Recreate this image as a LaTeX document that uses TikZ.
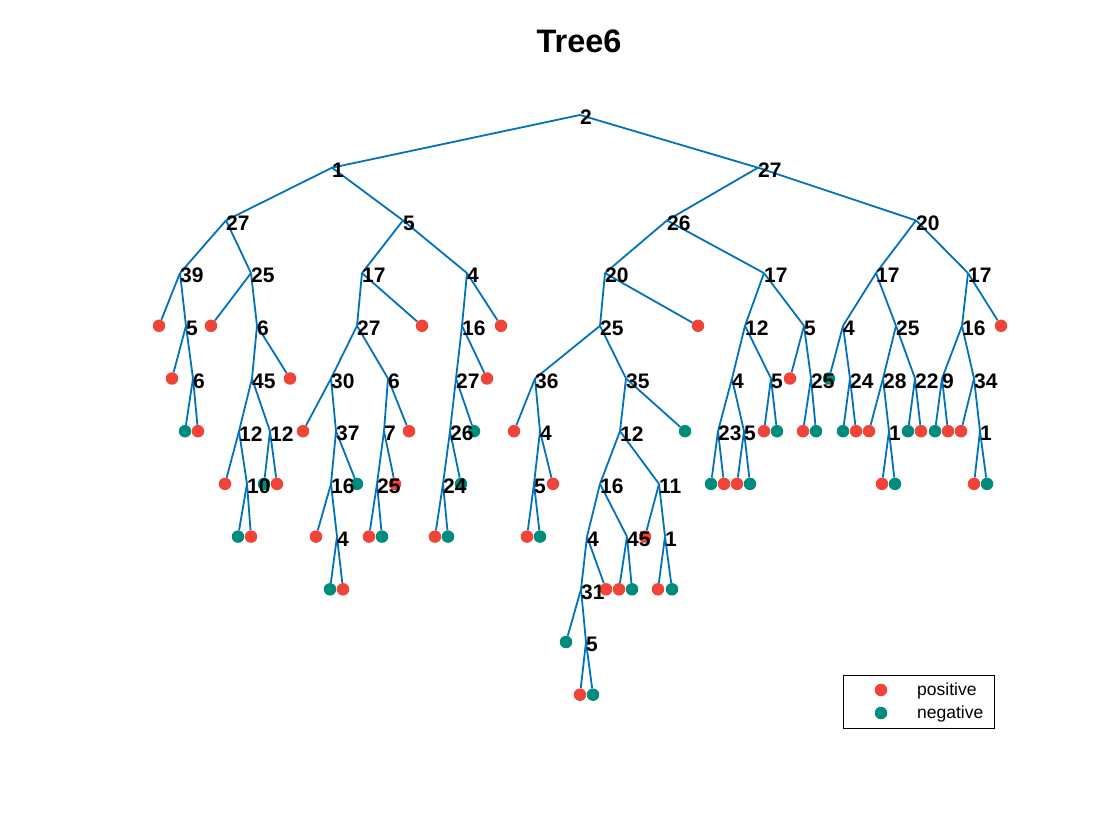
\documentclass[tikz,border=0pt]{standalone}
\usepackage{fontspec}
\setmainfont{Liberation Sans}
\definecolor{edgeblue}{RGB}{0,114,189}
\definecolor{posred}{RGB}{240,68,56}
\definecolor{negteal}{RGB}{0,140,124}
\pgfdeclarelayer{bg}\pgfdeclarelayer{fg}\pgfsetlayers{bg,main,fg}
\newcommand\TIn[4]{\coordinate (#1) at (#2,#3);\begin{pgfonlayer}{fg}\node[lbl] (#1-l) at (#1) {#4};\end{pgfonlayer}}
\newcommand\TLf[4]{\node[#4dot] (#1) at (#2,#3) {};}
\newcommand\TEd[2]{\begin{pgfonlayer}{bg}\draw[edge] (#1) -- (#2);\end{pgfonlayer}}
\begin{document}
\begin{tikzpicture}[x=1pt,y=-52.7pt,
  edge/.style={draw=edgeblue,line width=1.8pt},
  lbl/.style={anchor=west,inner sep=0pt,yshift=-2.5pt,font=\bfseries\fontsize{21}{21}\selectfont},
  Rdot/.style={circle,fill=posred,draw=none,minimum size=12.5pt,inner sep=0pt},
  Tdot/.style={circle,fill=negteal,draw=none,minimum size=12.5pt,inner sep=0pt}]
\begin{pgfonlayer}{bg}
\fill[white] (0pt,115pt) rectangle (1120pt,-725pt);
\end{pgfonlayer}
\useasboundingbox (0pt,115pt) rectangle (1120pt,-725pt);
\node[font=\bfseries\fontsize{32.5}{32.5}\selectfont] (title) at (579pt,74pt) {Tree6};
% ---- nodes ----
\TIn{r}{580}{0}{2}
\TIn{ra}{332}{1}{1}
\TIn{raa}{226}{2}{27}
\TIn{raaa}{180}{3}{39}
\TLf{raaaa}{159}{4}{R}
\TIn{raaab}{186}{4}{5}
\TLf{raaaba}{172}{5}{R}
\TIn{raaabb}{193}{5}{6}
\TLf{raaabba}{185}{6}{T}
\TLf{raaabbb}{198}{6}{R}
\TIn{raab}{251}{3}{25}
\TLf{raaba}{211}{4}{R}
\TIn{raabb}{257}{4}{6}
\TIn{raabba}{252}{5}{45}
\TIn{raabbaa}{239}{6}{12}
\TLf{raabbaaa}{225}{7}{R}
\TIn{raabbaab}{247}{7}{10}
\TLf{raabbaaba}{238}{8}{T}
\TLf{raabbaabb}{251}{8}{R}
\TIn{raabbab}{270}{6}{12}
\TLf{raabbaba}{264}{7}{T}
\TLf{raabbabb}{277}{7}{R}
\TLf{raabbb}{290}{5}{R}
\TIn{rab}{403}{2}{5}
\TIn{raba}{362}{3}{17}
\TIn{rabaa}{357}{4}{27}
\TIn{rabaaa}{331}{5}{30}
\TLf{rabaaaa}{303}{6}{R}
\TIn{rabaaab}{336}{6}{37}
\TIn{rabaaaba}{331}{7}{16}
\TLf{rabaaabaa}{316}{8}{R}
\TIn{rabaaabab}{337}{8}{4}
\TLf{rabaaababa}{330}{9}{T}
\TLf{rabaaababb}{343}{9}{R}
\TLf{rabaaabb}{357}{7}{T}
\TIn{rabaab}{388}{5}{6}
\TIn{rabaaba}{384}{6}{7}
\TIn{rabaabaa}{377}{7}{25}
\TLf{rabaabaaa}{369}{8}{R}
\TLf{rabaabaab}{382}{8}{T}
\TLf{rabaabab}{395}{7}{R}
\TLf{rabaabb}{409}{6}{R}
\TLf{rabab}{422}{4}{R}
\TIn{rabb}{467}{3}{4}
\TIn{rabba}{462}{4}{16}
\TIn{rabbaa}{456}{5}{27}
\TIn{rabbaaa}{450}{6}{26}
\TIn{rabbaaaa}{443}{7}{24}
\TLf{rabbaaaaa}{435}{8}{R}
\TLf{rabbaaaab}{448}{8}{T}
\TLf{rabbaaab}{461}{7}{T}
\TLf{rabbaab}{474}{6}{T}
\TLf{rabbab}{487}{5}{R}
\TLf{rabbb}{501}{4}{R}
\TIn{rb}{758}{1}{27}
\TIn{rba}{667}{2}{26}
\TIn{rbaa}{605}{3}{20}
\TIn{rbaaa}{600}{4}{25}
\TIn{rbaaaa}{535}{5}{36}
\TLf{rbaaaaa}{514}{6}{R}
\TIn{rbaaaab}{540}{6}{4}
\TIn{rbaaaaba}{534}{7}{5}
\TLf{rbaaaabaa}{527}{8}{R}
\TLf{rbaaaabab}{540}{8}{T}
\TLf{rbaaaabb}{553}{7}{R}
\TIn{rbaaab}{626}{5}{35}
\TIn{rbaaaba}{620}{6}{12}
\TIn{rbaaabaa}{600}{7}{16}
\TIn{rbaaabaaa}{587}{8}{4}
\TIn{rbaaabaaaa}{581}{9}{31}
\TLf{rbaaabaaaaa}{566}{10}{T}
\TIn{rbaaabaaaab}{586}{10}{5}
\TLf{rbaaabaaaaba}{580}{11}{R}
\TLf{rbaaabaaaabb}{593}{11}{T}
\TLf{rbaaabaaab}{606}{9}{R}
\TIn{rbaaabaab}{627}{8}{45}
\TLf{rbaaabaaba}{619}{9}{R}
\TLf{rbaaabaabb}{632}{9}{T}
\TIn{rbaaabab}{659}{7}{11}
\TLf{rbaaababa}{645}{8}{R}
\TIn{rbaaababb}{665}{8}{1}
\TLf{rbaaababba}{658}{9}{R}
\TLf{rbaaababbb}{672}{9}{T}
\TLf{rbaaabb}{685}{6}{T}
\TLf{rbaab}{698}{4}{R}
\TIn{rbab}{764}{3}{17}
\TIn{rbaba}{745}{4}{12}
\TIn{rbabaa}{732}{5}{4}
\TIn{rbabaaa}{718}{6}{23}
\TLf{rbabaaaa}{711}{7}{T}
\TLf{rbabaaab}{724}{7}{R}
\TIn{rbabaab}{744}{6}{5}
\TLf{rbabaaba}{737}{7}{R}
\TLf{rbabaabb}{750}{7}{T}
\TIn{rbabab}{771}{5}{5}
\TLf{rbababa}{764}{6}{R}
\TLf{rbababb}{777}{6}{T}
\TIn{rbabb}{804}{4}{5}
\TLf{rbabba}{790}{5}{R}
\TIn{rbabbb}{811}{5}{25}
\TLf{rbabbba}{803}{6}{R}
\TLf{rbabbbb}{816}{6}{T}
\TIn{rbb}{916}{2}{20}
\TIn{rbba}{876}{3}{17}
\TIn{rbbaa}{843}{4}{4}
\TLf{rbbaaa}{829}{5}{T}
\TIn{rbbaab}{850}{5}{24}
\TLf{rbbaaba}{843}{6}{T}
\TLf{rbbaabb}{856}{6}{R}
\TIn{rbbab}{896}{4}{25}
\TIn{rbbaba}{883}{5}{28}
\TLf{rbbabaa}{869}{6}{R}
\TIn{rbbabab}{889}{6}{1}
\TLf{rbbababa}{882}{7}{R}
\TLf{rbbababb}{895}{7}{T}
\TIn{rbbabb}{915}{5}{22}
\TLf{rbbabba}{908}{6}{T}
\TLf{rbbabbb}{921}{6}{R}
\TIn{rbbb}{968}{3}{17}
\TIn{rbbba}{962}{4}{16}
\TIn{rbbbaa}{942}{5}{9}
\TLf{rbbbaaa}{935}{6}{T}
\TLf{rbbbaab}{948}{6}{R}
\TIn{rbbbab}{974}{5}{34}
\TLf{rbbbaba}{961}{6}{R}
\TIn{rbbbabb}{980}{6}{1}
\TLf{rbbbabba}{974}{7}{R}
\TLf{rbbbabbb}{987}{7}{T}
\TLf{rbbbb}{1001}{4}{R}
% ---- edges ----
\TEd{r}{ra}\TEd{r}{rb}
\TEd{ra}{raa}\TEd{ra}{rab}
\TEd{raa}{raaa}\TEd{raa}{raab}
\TEd{raaa}{raaaa}\TEd{raaa}{raaab}
\TEd{raaab}{raaaba}\TEd{raaab}{raaabb}
\TEd{raaabb}{raaabba}\TEd{raaabb}{raaabbb}
\TEd{raab}{raaba}\TEd{raab}{raabb}
\TEd{raabb}{raabba}\TEd{raabb}{raabbb}
\TEd{raabba}{raabbaa}\TEd{raabba}{raabbab}
\TEd{raabbaa}{raabbaaa}\TEd{raabbaa}{raabbaab}
\TEd{raabbaab}{raabbaaba}\TEd{raabbaab}{raabbaabb}
\TEd{raabbab}{raabbaba}\TEd{raabbab}{raabbabb}
\TEd{rab}{raba}\TEd{rab}{rabb}
\TEd{raba}{rabaa}\TEd{raba}{rabab}
\TEd{rabaa}{rabaaa}\TEd{rabaa}{rabaab}
\TEd{rabaaa}{rabaaaa}\TEd{rabaaa}{rabaaab}
\TEd{rabaaab}{rabaaaba}\TEd{rabaaab}{rabaaabb}
\TEd{rabaaaba}{rabaaabaa}\TEd{rabaaaba}{rabaaabab}
\TEd{rabaaabab}{rabaaababa}\TEd{rabaaabab}{rabaaababb}
\TEd{rabaab}{rabaaba}\TEd{rabaab}{rabaabb}
\TEd{rabaaba}{rabaabaa}\TEd{rabaaba}{rabaabab}
\TEd{rabaabaa}{rabaabaaa}\TEd{rabaabaa}{rabaabaab}
\TEd{rabb}{rabba}\TEd{rabb}{rabbb}
\TEd{rabba}{rabbaa}\TEd{rabba}{rabbab}
\TEd{rabbaa}{rabbaaa}\TEd{rabbaa}{rabbaab}
\TEd{rabbaaa}{rabbaaaa}\TEd{rabbaaa}{rabbaaab}
\TEd{rabbaaaa}{rabbaaaaa}\TEd{rabbaaaa}{rabbaaaab}
\TEd{rb}{rba}\TEd{rb}{rbb}
\TEd{rba}{rbaa}\TEd{rba}{rbab}
\TEd{rbaa}{rbaaa}\TEd{rbaa}{rbaab}
\TEd{rbaaa}{rbaaaa}\TEd{rbaaa}{rbaaab}
\TEd{rbaaaa}{rbaaaaa}\TEd{rbaaaa}{rbaaaab}
\TEd{rbaaaab}{rbaaaaba}\TEd{rbaaaab}{rbaaaabb}
\TEd{rbaaaaba}{rbaaaabaa}\TEd{rbaaaaba}{rbaaaabab}
\TEd{rbaaab}{rbaaaba}\TEd{rbaaab}{rbaaabb}
\TEd{rbaaaba}{rbaaabaa}\TEd{rbaaaba}{rbaaabab}
\TEd{rbaaabaa}{rbaaabaaa}\TEd{rbaaabaa}{rbaaabaab}
\TEd{rbaaabaaa}{rbaaabaaaa}\TEd{rbaaabaaa}{rbaaabaaab}
\TEd{rbaaabaaaa}{rbaaabaaaaa}\TEd{rbaaabaaaa}{rbaaabaaaab}
\TEd{rbaaabaaaab}{rbaaabaaaaba}\TEd{rbaaabaaaab}{rbaaabaaaabb}
\TEd{rbaaabaab}{rbaaabaaba}\TEd{rbaaabaab}{rbaaabaabb}
\TEd{rbaaabab}{rbaaababa}\TEd{rbaaabab}{rbaaababb}
\TEd{rbaaababb}{rbaaababba}\TEd{rbaaababb}{rbaaababbb}
\TEd{rbab}{rbaba}\TEd{rbab}{rbabb}
\TEd{rbaba}{rbabaa}\TEd{rbaba}{rbabab}
\TEd{rbabaa}{rbabaaa}\TEd{rbabaa}{rbabaab}
\TEd{rbabaaa}{rbabaaaa}\TEd{rbabaaa}{rbabaaab}
\TEd{rbabaab}{rbabaaba}\TEd{rbabaab}{rbabaabb}
\TEd{rbabab}{rbababa}\TEd{rbabab}{rbababb}
\TEd{rbabb}{rbabba}\TEd{rbabb}{rbabbb}
\TEd{rbabbb}{rbabbba}\TEd{rbabbb}{rbabbbb}
\TEd{rbb}{rbba}\TEd{rbb}{rbbb}
\TEd{rbba}{rbbaa}\TEd{rbba}{rbbab}
\TEd{rbbaa}{rbbaaa}\TEd{rbbaa}{rbbaab}
\TEd{rbbaab}{rbbaaba}\TEd{rbbaab}{rbbaabb}
\TEd{rbbab}{rbbaba}\TEd{rbbab}{rbbabb}
\TEd{rbbaba}{rbbabaa}\TEd{rbbaba}{rbbabab}
\TEd{rbbabab}{rbbababa}\TEd{rbbabab}{rbbababb}
\TEd{rbbabb}{rbbabba}\TEd{rbbabb}{rbbabbb}
\TEd{rbbb}{rbbba}\TEd{rbbb}{rbbbb}
\TEd{rbbba}{rbbbaa}\TEd{rbbba}{rbbbab}
\TEd{rbbbaa}{rbbbaaa}\TEd{rbbbaa}{rbbbaab}
\TEd{rbbbab}{rbbbaba}\TEd{rbbbab}{rbbbabb}
\TEd{rbbbabb}{rbbbabba}\TEd{rbbbabb}{rbbbabbb}
% ---- legend ----
\begin{pgfonlayer}{fg}
\node[draw=black,line width=0.6pt,fill=white,minimum width=151pt,minimum height=53pt,inner sep=0pt,anchor=north west] (legend) at (843pt,-560pt) {};
\node[Rdot] (legpos) at (881pt,-575pt) {};
\node[Tdot] (legneg) at (881pt,-598pt) {};
\node[anchor=west,inner sep=0pt,font=\fontsize{17.5}{17.5}\selectfont] (legpost) at (917pt,-576pt) {positive};
\node[anchor=west,inner sep=0pt,font=\fontsize{17.5}{17.5}\selectfont] (legnegt) at (917pt,-599pt) {negative};
\end{pgfonlayer}
\end{tikzpicture}
\end{document}
